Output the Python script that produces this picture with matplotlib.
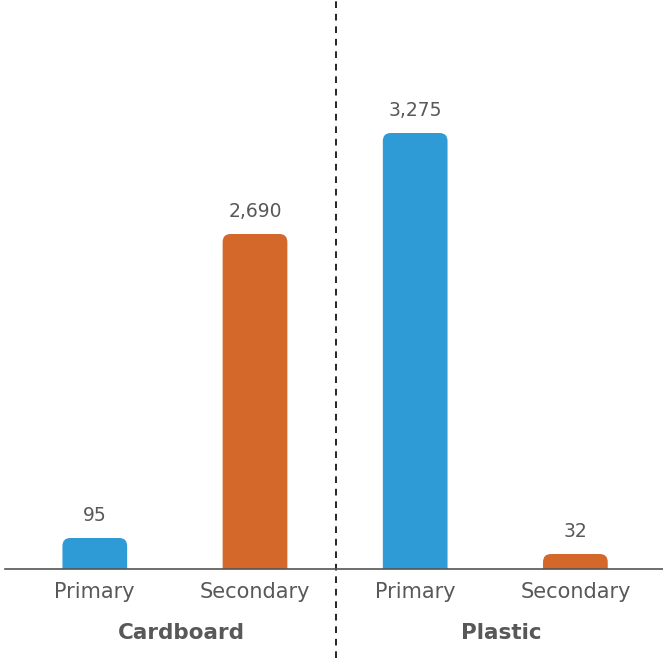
import matplotlib.pyplot as plt
from matplotlib.patches import FancyBboxPatch

# Datos del gráfico
materials = ['Cardboard', 'Plastic']
packaging = ['Primary', 'Secondary', 'Primary', 'Secondary']
values = [95, 2690, 3275, 32]
# alturas de las barras tal como se ven en la imagen (no son proporcionales a los valores)
bar_heights = [31, 335, 436, 15]
bar_colors = ['#2E9BD6', '#D4682A', '#2E9BD6', '#D4682A']

text_color = '#585858'
plt.rcParams['font.family'] = ['DejaVu Sans']

fig = plt.figure(figsize=(6.63, 6.58), dpi=100)
ax = fig.add_axes([5 / 663, 89 / 658, 658 / 663, 569 / 658])

xmin, xmax = -0.5606, 3.547
x = list(range(len(values)))
width = 0.404
radius = 8  # en unidades y (px)
# relación de aspecto para que el redondeo sea circular
x_per_px = (xmax - xmin) / 658
aspect = 1 / x_per_px
for xi, h, c in zip(x, bar_heights, bar_colors):
    patch = FancyBboxPatch((xi - width / 2, -radius), width, h + radius,
                           boxstyle='round,pad=0,rounding_size=%f' % (radius * x_per_px),
                           mutation_aspect=aspect, facecolor=c, edgecolor='none')
    ax.add_patch(patch)

# etiquetas de valores
for xi, h, v in zip(x, bar_heights, values):
    ax.text(xi, h + 13, f'{v:,}', ha='center', va='bottom', fontsize=13.5, color=text_color)

ax.set_xlim(xmin, xmax)
ax.set_ylim(0, 569)

ax.set_xticks(x)
ax.set_xticklabels(packaging, fontsize=15, color=text_color)
ax.tick_params(axis='x', length=0, pad=9)
ax.set_yticks([])

for s in ['top', 'right', 'left']:
    ax.spines[s].set_visible(False)
ax.spines['bottom'].set_color('#555555')
ax.spines['bottom'].set_linewidth(1.2)

# nombres de grupo
for i, m in enumerate(materials):
    ax.text(0.54 + 2 * i, -64, m, ha='center', va='center', fontsize=15.5,
            fontweight='bold', color=text_color)

# separador punteado
ax.plot([1.506, 1.506], [-89, 569], color='black', lw=1.2, dashes=(4, 3.5), clip_on=False)

fig.savefig('out.png', dpi=100)
